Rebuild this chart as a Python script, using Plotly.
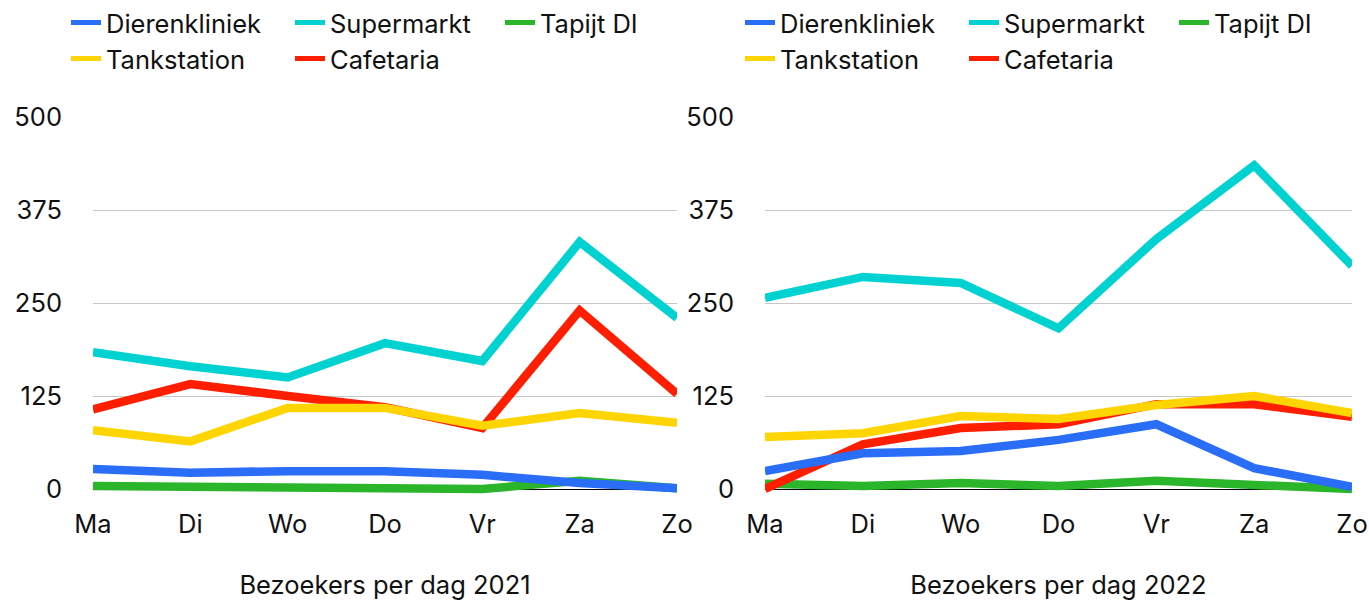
import plotly.graph_objects as go

days = ["Ma", "Di", "Wo", "Do", "Vr", "Za", "Zo"]
y_ticks = [0, 125, 250, 375, 500]

series_names = ["Dierenkliniek", "Supermarkt", "Tapijt DI", "Tankstation", "Cafetaria"]
colors = {
    "Dierenkliniek": "#2A6EF7",
    "Supermarkt": "#00D2D2",
    "Tapijt DI": "#2BB52B",
    "Tankstation": "#FFD500",
    "Cafetaria": "#FF1E00",
}

# 2021
dieren_2021 = [27, 22, 24, 24, 19, 8, 1]
super_2021 = [184, 165, 150, 196, 172, 332, 230]
tapijt_2021 = [4, 3, 3, 3, 0, 11, 1]
tank_2021 = [79, 64, 109, 109, 85, 102, 89]
cafe_2021 = [107, 141, 125, 110, 82, 240, 128]

# 2022
dieren_2022 = [24, 48, 51, 66, 87, 28, 3]
super_2022 = [257, 285, 277, 216, 336, 435, 300]
tapijt_2022 = [7, 4, 8, 4, 11, 5, 0]
tank_2022 = [70, 75, 98, 94, 113, 125, 102]
cafe_2022 = [0, 60, 82, 87, 114, 114, 97]

titles = ["Bezoekers per dag 2021", "Bezoekers per dag 2022"]

data = [
    {"Dierenkliniek": dieren_2021, "Supermarkt": super_2021, "Tapijt DI": tapijt_2021,
     "Tankstation": tank_2021, "Cafetaria": cafe_2021},
    {"Dierenkliniek": dieren_2022, "Supermarkt": super_2022, "Tapijt DI": tapijt_2022,
     "Tankstation": tank_2022, "Cafetaria": cafe_2022},
]

# drawing order (later on top)
draw_order = ["Tapijt DI", "Cafetaria", "Tankstation", "Supermarkt", "Dierenkliniek"]
row1 = ["Dierenkliniek", "Supermarkt", "Tapijt DI"]
legend_width = {"Dierenkliniek": 179, "Supermarkt": 165, "Tapijt DI": 120,
                "Tankstation": 179, "Cafetaria": 120}

FONT = "Inter"
FS = 25.5
fig = go.Figure()

for i, d in enumerate(data):
    xa = "x" if i == 0 else "x2"
    ya = "y" if i == 0 else "y2"
    for name in draw_order:
        if name in row1:
            lg = "legend" if i == 0 else "legend3"
        else:
            lg = "legend2" if i == 0 else "legend4"
        fig.add_trace(go.Scatter(
            x=days, y=d[name], name=name, mode="lines",
            line=dict(color=colors[name], width=8.5),
            xaxis=xa, yaxis=ya, legend=lg,
            legendrank=series_names.index(name) + 1,
            legendwidth=legend_width[name],
            hoverinfo="x+y+name",
        ))

W, H = 1369, 600
left_dom = [93 / W, 677 / W]
right_dom = [765 / W, 1352 / W]
ylo = -10
bottom_px = 117 + (489 - 117) * (500 - ylo) / 500
ydom = [(H - bottom_px) / H, (H - 117) / H]

axis_font = dict(family=FONT, size=FS, color="#111111")

common_x = dict(
    type="category", categoryorder="array", categoryarray=days,
    range=[0, 6], showgrid=False, zeroline=False, showline=False, ticks="",
    tickfont=axis_font, ticklabelstandoff=10, automargin=False,
)
common_y = dict(
    range=[ylo, 500], tickvals=y_ticks, ticktext=[str(v) for v in y_ticks],
    showgrid=True, gridcolor="#C8C8C8", gridwidth=1,
    zeroline=True, zerolinecolor="#000000", zerolinewidth=1,
    showline=False, ticks="", tickfont=axis_font, ticklabelstandoff=30,
    domain=ydom, automargin=False,
)

fig.update_layout(
    width=W, height=H,
    margin=dict(l=0, r=0, t=0, b=0, autoexpand=False),
    paper_bgcolor="white", plot_bgcolor="white",
    font=dict(family=FONT, size=FS, color="#111111"),
    showlegend=True,
    xaxis=dict(common_x, domain=left_dom, anchor="y",
               title=dict(text=titles[0], font=axis_font, standoff=42)),
    yaxis=dict(common_y, anchor="x"),
    xaxis2=dict(common_x, domain=right_dom, anchor="y2",
                title=dict(text=titles[1], font=axis_font, standoff=42)),
    yaxis2=dict(common_y, anchor="x2"),
)

leg_common = dict(orientation="h", xanchor="left", yanchor="middle",
                  bgcolor="rgba(0,0,0,0)", font=dict(family=FONT, size=FS, color="#111111"),
                  itemclick=False, itemdoubleclick=False, itemsizing="constant")
fig.update_layout(
    legend=dict(leg_common, x=66 / W, y=(H - 23) / H),
    legend2=dict(leg_common, x=66 / W, y=(H - 59) / H),
    legend3=dict(leg_common, x=740 / W, y=(H - 23) / H),
    legend4=dict(leg_common, x=740 / W, y=(H - 59) / H),
)

fig.write_html(
    "out.html",
    config={"displayModeBar": False},
    post_script="document.body.style.margin='0';document.body.style.overflow='hidden';",
)
